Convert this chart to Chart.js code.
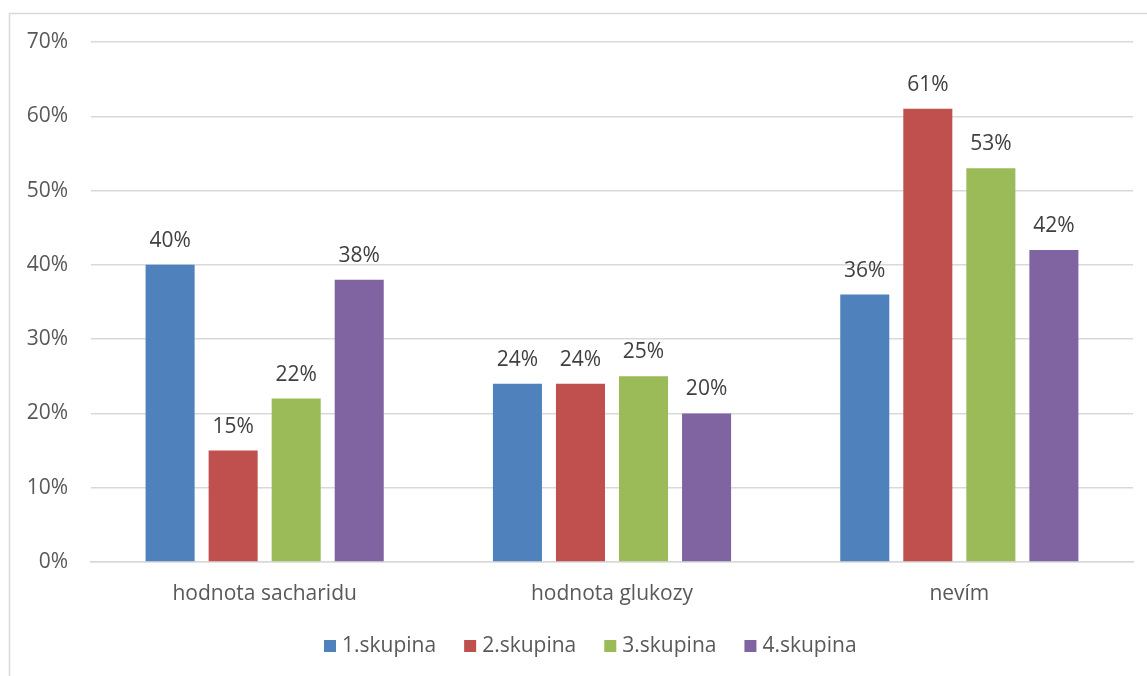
<!DOCTYPE html>
<html>
<head>
<meta charset="utf-8">
<script src="https://cdn.jsdelivr.net/npm/chart.js@4/dist/chart.umd.min.js"></script>
<style>
  html, body { margin: 0; padding: 0; background: #ffffff; }
  #wrap { width: 1147px; height: 676px; position: relative; }
</style>
</head>
<body>
<div id="wrap"><canvas id="c" width="1147" height="676"></canvas></div>
<script>
// Answer categories and per-group shares (percent)
const categories = ['hodnota sacharidu', 'hodnota glukozy', 'nevím'];
const seriesNames = ['1.skupina', '2.skupina', '3.skupina', '4.skupina'];
const skupina1 = [40, 24, 36];
const skupina2 = [15, 24, 61];
const skupina3 = [22, 25, 53];
const skupina4 = [38, 20, 42];
const yTicks = [0, 10, 20, 30, 40, 50, 60, 70];

const colors = ['#4F81BD', '#C0504D', '#9BBB59', '#8064A2'];
const seriesValues = [skupina1, skupina2, skupina3, skupina4];
const FONT = '"Open Sans", "Noto Sans", sans-serif';
const FS = 21;

// Light frame around the whole chart
const framePlugin = {
  id: 'frame',
  beforeDraw(chart) {
    const ctx = chart.ctx;
    ctx.save();
    ctx.strokeStyle = '#d9d9d9';
    ctx.lineWidth = 1.5;
    ctx.strokeRect(9.5, 13.5, chart.width + 20, chart.height + 20);
    ctx.restore();
  }
};

// Value labels above each bar
const valueLabels = {
  id: 'valueLabels',
  afterDatasetsDraw(chart) {
    const ctx = chart.ctx;
    ctx.save();
    ctx.font = FS + 'px ' + FONT;
    ctx.fillStyle = '#404040';
    ctx.textAlign = 'center';
    ctx.textBaseline = 'middle';
    chart.data.datasets.forEach((ds, i) => {
      chart.getDatasetMeta(i).data.forEach((bar, j) => {
        ctx.fillText(ds.data[j] + '%', bar.x, bar.y - 24);
      });
    });
    ctx.restore();
  }
};

// Legend row under the category axis
const bottomLegend = {
  id: 'bottomLegend',
  afterDraw(chart) {
    const ctx = chart.ctx;
    const box = 12, textGap = 6, itemGap = 28, y = 646, centerX = 590;
    ctx.save();
    ctx.font = FS + 'px ' + FONT;
    const items = chart.data.datasets.map(ds => ({
      text: ds.label, color: ds.backgroundColor, w: ctx.measureText(ds.label).width
    }));
    const total = items.reduce((s, it) => s + box + textGap + it.w, 0) + itemGap * (items.length - 1);
    let x = Math.round(centerX - total / 2);
    ctx.textBaseline = 'middle';
    ctx.textAlign = 'left';
    items.forEach(it => {
      ctx.fillStyle = it.color;
      ctx.fillRect(x, y - box / 2, box, box);
      ctx.fillStyle = '#595959';
      ctx.fillText(it.text, x + box + textGap, y);
      x += box + textGap + it.w + itemGap;
    });
    ctx.restore();
  }
};

new Chart(document.getElementById('c'), {
  type: 'bar',
  data: {
    labels: categories,
    datasets: seriesNames.map((name, i) => ({
      label: name,
      data: seriesValues[i],
      backgroundColor: colors[i],
      borderWidth: 0,
      barPercentage: 0.778,
      categoryPercentage: 0.726
    }))
  },
  options: {
    responsive: false,
    animation: false,
    devicePixelRatio: 1,
    layout: { padding: { top: 42, right: 14, bottom: 51, left: 0 } },
    plugins: {
      tooltip: { enabled: false },
      legend: { display: false }
    },
    scales: {
      x: {
        grid: { display: false, drawTicks: false },
        border: { display: true, color: '#d9d9d9', width: 1.5 },
        ticks: { color: '#595959', padding: 19, font: { size: FS, family: FONT } },
        afterFit(s) { s.height = 63; }
      },
      y: {
        min: 0,
        max: 70,
        afterBuildTicks(s) { s.ticks = yTicks.map(v => ({ value: v })); },
        grid: { color: '#d9d9d9', lineWidth: 1.5, drawTicks: false },
        border: { display: false },
        ticks: {
          color: '#595959',
          padding: 23,
          font: { size: FS, family: FONT },
          callback: v => v + '%'
        },
        afterFit(s) { s.width = 91; }
      }
    }
  },
  plugins: [framePlugin, valueLabels, bottomLegend]
});
</script>
</body>
</html>
